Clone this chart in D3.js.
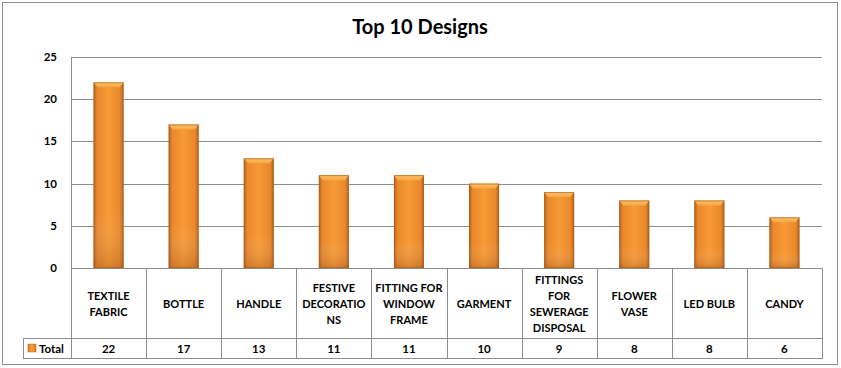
<!DOCTYPE html>
<html><head><meta charset="utf-8">
<script src="https://cdn.jsdelivr.net/npm/d3@7"></script>
<style>html,body{margin:0;padding:0;background:#fff;}svg{display:block;}</style>
</head><body>
<script>
const categories = ["TEXTILE FABRIC","BOTTLE","HANDLE","FESTIVE DECORATIONS","FITTING FOR WINDOW FRAME","GARMENT","FITTINGS FOR SEWERAGE DISPOSAL","FLOWER VASE","LED BULB","CANDY"];
const labelLines = [["TEXTILE","FABRIC"],["BOTTLE"],["HANDLE"],["FESTIVE","DECORATIO","NS"],["FITTING FOR","WINDOW","FRAME"],["GARMENT"],["FITTINGS","FOR","SEWERAGE","DISPOSAL"],["FLOWER","VASE"],["LED BULB"],["CANDY"]];
const totals = [22,17,13,11,11,10,9,8,8,6];
const yTicks = [0,5,10,15,20,25];
const seriesName = "Total";
const chartTitle = "Top 10 Designs";

(function(){
const W = 841, H = 368;
const svg = d3.select("body").append("svg").attr("width", W).attr("height", H);
const font = "Lato, 'Open Sans', sans-serif";
const gridC = "#8c8c8c";

svg.append("rect").attr("x",2.5).attr("y",2.5).attr("width",835).attr("height",362)
  .attr("fill","#fff").attr("stroke","#8c8c8c").attr("stroke-width",1);

const pl = 71, pr = 822, pt = 57, base = 268;
const x = d3.scaleBand().domain(categories).range([pl, pr]).paddingInner(0).paddingOuter(0);
const y = d3.scaleLinear().domain([0,25]).range([base, pt]);

svg.append("text").attr("x",420).attr("y",34).attr("text-anchor","middle")
  .attr("font-family",font).attr("font-weight","bold").attr("font-size",20).attr("fill","#000").text(chartTitle);

svg.append("g").selectAll("line").data(yTicks).join("line")
  .attr("x1",pl).attr("x2",pr).attr("y1",d=>Math.round(y(d))+0.5).attr("y2",d=>Math.round(y(d))+0.5)
  .attr("stroke",gridC).attr("stroke-width",1);

svg.append("g").selectAll("text").data(yTicks).join("text")
  .attr("x",57).attr("y",d=>y(d)+4).attr("text-anchor","end")
  .attr("font-family",font).attr("font-weight","bold").attr("font-size",11.5).text(d=>d);

const defs = svg.append("defs");
const g1 = defs.append("linearGradient").attr("id","barH").attr("x1","0").attr("x2","1").attr("y1","0").attr("y2","0");
[[0,"#b5611c"],[0.12,"#e9882c"],[0.5,"#f89a36"],[0.88,"#e9882c"],[1,"#b5611c"]].forEach(s=>g1.append("stop").attr("offset",s[0]).attr("stop-color",s[1]));
const g2 = defs.append("linearGradient").attr("id","barV").attr("x1","0").attr("x2","0").attr("y1","0").attr("y2","1");
[[0,"#ffffff",0],[0.7,"#ffffff",0],[1,"#7a3d0a",0.25]].forEach(s=>g2.append("stop").attr("offset",s[0]).attr("stop-color",s[1]).attr("stop-opacity",s[2]));
const g3 = defs.append("linearGradient").attr("id","barTop").attr("x1","0").attr("x2","0").attr("y1","0").attr("y2","1");
[[0,"#fcc46a"],[1,"#f7a640"]].forEach(s=>g3.append("stop").attr("offset",s[0]).attr("stop-color",s[1]));

const bw = 30;
const bx = i => x(categories[i])+x.bandwidth()/2-bw/2;
const bars = svg.append("g").selectAll("g").data(totals).join("g");
bars.append("rect").attr("x",(d,i)=>bx(i)).attr("y",d=>y(d))
  .attr("width",bw).attr("height",d=>base-y(d)).attr("fill","url(#barH)");
bars.append("rect").attr("x",(d,i)=>bx(i)).attr("y",d=>y(d))
  .attr("width",bw).attr("height",d=>base-y(d)).attr("fill","url(#barV)");
bars.append("path").attr("d",(d,i)=>{
  const x0 = bx(i), y0 = y(d);
  return `M${x0},${y0}L${x0+bw},${y0}L${x0+bw-4},${y0+5}L${x0+4},${y0+5}Z`;
}).attr("fill","url(#barTop)");
bars.append("rect").attr("x",(d,i)=>bx(i)+0.5).attr("y",d=>y(d)+0.5)
  .attr("width",bw-1).attr("height",d=>base-y(d)-1).attr("fill","none").attr("stroke","#a9581a").attr("stroke-width",1).attr("stroke-opacity",0.6);

const rowTop = base, rowMid = 338, rowBot = 358, legLeft = 23;
const tg = svg.append("g").attr("stroke",gridC).attr("stroke-width",1).attr("fill","none");
tg.append("line").attr("x1",pl+0.5).attr("x2",pl+0.5).attr("y1",pt).attr("y2",rowBot);
tg.append("line").attr("x1",pr+0.5).attr("x2",pr+0.5).attr("y1",rowTop).attr("y2",rowBot);
categories.forEach((c,i)=>{ if(i>0) tg.append("line").attr("x1",Math.round(x(c))+0.5).attr("x2",Math.round(x(c))+0.5).attr("y1",rowTop).attr("y2",rowBot); });
tg.append("line").attr("x1",legLeft+0.5).attr("x2",legLeft+0.5).attr("y1",rowMid).attr("y2",rowBot);
tg.append("line").attr("x1",legLeft).attr("x2",pr).attr("y1",rowMid+0.5).attr("y2",rowMid+0.5);
tg.append("line").attr("x1",legLeft).attr("x2",pr+1).attr("y1",rowBot+0.5).attr("y2",rowBot+0.5);

const lh = 16;
categories.forEach((c,i)=>{
  const lines = labelLines[i];
  const cx = x(c)+x.bandwidth()/2;
  const cy = (rowTop+rowMid)/2 + 1;
  const t = svg.append("text").attr("text-anchor","middle").attr("font-family",font).attr("font-weight","bold").attr("font-size",11).attr("fill","#000");
  lines.forEach((l,k)=>{
    t.append("tspan").attr("x",cx).attr("y",cy + (k-(lines.length-1)/2)*lh + 4).text(l);
  });
});

svg.append("g").selectAll("text").data(totals).join("text")
  .attr("x",(d,i)=>x(categories[i])+x.bandwidth()/2).attr("y",(rowMid+rowBot)/2+4.5)
  .attr("text-anchor","middle").attr("font-family",font).attr("font-weight","bold").attr("font-size",11.5).text(d=>d);

svg.append("rect").attr("x",28).attr("y",344).attr("width",8).attr("height",8).attr("fill","url(#barH)").attr("stroke","#c06a20").attr("stroke-width",0.5);
svg.append("text").attr("x",39).attr("y",352.5).attr("font-family",font).attr("font-weight","bold").attr("font-size",11.5).text(seriesName);
})();
</script>
</body></html>
